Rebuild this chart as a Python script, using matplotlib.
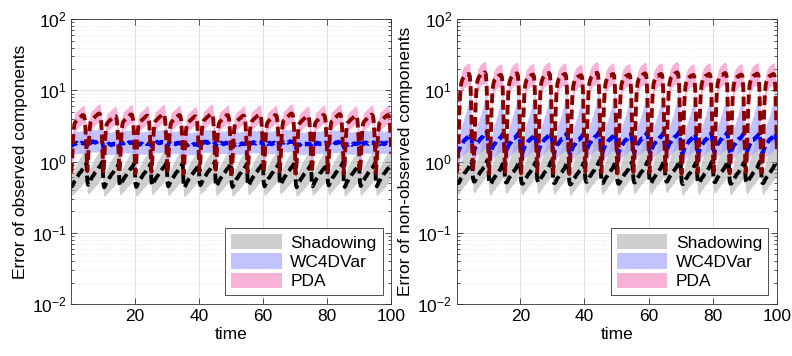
import numpy as np
import matplotlib.pyplot as plt
from matplotlib.patches import Patch

plt.rcParams['font.family'] = ['Liberation Sans', 'DejaVu Sans']
plt.rcParams['mathtext.default'] = 'regular'

n_cycles = 20
dt = 0.25

# observed components
obs_sh_mean = [0.50, 0.45, 0.47, 0.50, 0.53, 0.55, 0.58, 0.60, 0.62, 0.65,
               0.68, 0.70, 0.72, 0.75, 0.78, 0.80, 0.83, 0.86, 0.90, 0.95]
obs_sh_lo = [0.36, 0.33, 0.34, 0.35, 0.36, 0.37, 0.38, 0.39, 0.40, 0.42,
             0.43, 0.44, 0.45, 0.47, 0.48, 0.50, 0.52, 0.54, 0.56, 0.58]
obs_sh_hi = [0.80, 0.65, 0.70, 0.75, 0.80, 0.85, 0.90, 0.95, 1.00, 1.05,
             1.10, 1.15, 1.20, 1.25, 1.30, 1.35, 1.40, 1.45, 1.50, 1.60]
obs_wc_mean = [1.60, 1.70, 1.80, 1.80, 1.80, 1.75, 1.80, 1.85, 1.80, 1.80,
               1.75, 1.80, 1.80, 1.85, 1.80, 1.80, 1.80, 1.85, 1.80, 1.75]
obs_wc_lo = [1.00, 1.20, 1.30, 1.30, 1.30, 1.28, 1.30, 1.32, 1.30, 1.30,
             1.28, 1.30, 1.30, 1.32, 1.30, 1.30, 1.30, 1.32, 1.30, 1.20]
obs_wc_hi = [2.40, 2.60, 2.60, 2.70, 2.65, 2.60, 2.70, 2.75, 2.70, 2.65,
             2.60, 2.70, 2.70, 2.75, 2.70, 2.70, 2.75, 2.85, 3.00, 2.80]
obs_pda_mean = [0.70, 1.00, 1.80, 2.80, 3.40, 3.60, 3.70, 3.80, 3.90, 4.00,
                4.10, 4.20, 4.30, 4.40, 4.50, 4.50, 4.40, 3.80, 2.50, 1.30]
obs_pda_lo = [0.50, 0.75, 1.30, 2.10, 2.60, 2.75, 2.80, 2.90, 3.00, 3.05,
              3.10, 3.20, 3.25, 3.35, 3.40, 3.40, 3.30, 2.80, 1.80, 0.90]
obs_pda_hi = [1.20, 1.60, 2.60, 3.80, 4.60, 4.90, 5.00, 5.10, 5.30, 5.40,
              5.50, 5.70, 5.80, 6.00, 6.10, 6.20, 6.00, 5.20, 3.50, 2.00]

# non-observed components
non_sh_mean = [0.55, 0.50, 0.50, 0.52, 0.55, 0.58, 0.60, 0.62, 0.65, 0.68,
               0.70, 0.72, 0.75, 0.78, 0.80, 0.85, 0.90, 0.95, 1.00, 0.90]
non_sh_lo = [0.38, 0.35, 0.35, 0.36, 0.38, 0.40, 0.41, 0.42, 0.44, 0.46,
             0.47, 0.48, 0.50, 0.52, 0.53, 0.56, 0.58, 0.60, 0.62, 0.55]
non_sh_hi = [0.80, 0.70, 0.75, 0.80, 0.90, 1.00, 1.10, 1.20, 1.30, 1.40,
             1.60, 1.80, 2.00, 2.30, 2.70, 3.20, 4.50, 3.00, 2.00, 1.30]
non_wc_mean = [1.40, 1.30, 1.40, 1.50, 1.60, 1.70, 1.80, 1.80, 1.90, 2.00,
               2.00, 2.10, 2.10, 2.20, 2.20, 2.30, 2.40, 2.50, 2.20, 1.80]
non_wc_lo = [0.95, 0.90, 0.95, 1.00, 1.10, 1.15, 1.20, 1.20, 1.25, 1.30,
             1.30, 1.35, 1.35, 1.40, 1.40, 1.45, 1.50, 1.50, 1.35, 1.10]
non_wc_hi = [2.00, 1.80, 2.00, 2.30, 2.60, 3.00, 3.30, 3.50, 3.80, 4.20,
             4.50, 5.00, 5.50, 6.00, 7.00, 8.00, 9.50, 6.00, 3.50, 2.50]
non_pda_mean = [0.70, 1.00, 2.00, 5.00, 9.00, 12.0, 13.5, 14.5, 15.0, 15.5,
                16.0, 16.0, 16.5, 16.5, 17.0, 17.0, 16.0, 11.0, 4.50, 1.50]
non_pda_lo = [0.50, 0.70, 1.40, 3.50, 6.50, 8.50, 9.50, 10.0, 10.5, 11.0,
              11.0, 11.5, 11.5, 11.5, 12.0, 12.0, 11.0, 7.50, 3.00, 1.00]
non_pda_hi = [1.20, 1.60, 3.00, 7.50, 13.0, 17.0, 19.0, 20.0, 21.0, 22.0,
              22.5, 23.0, 23.5, 24.0, 24.0, 24.5, 23.0, 16.0, 6.50, 2.20]

# small cycle-to-cycle level changes
cycle_level = [1.00, 1.05, 0.97, 1.02, 0.98, 1.03, 1.00, 0.96, 1.04, 1.00,
               0.98, 1.02, 1.00, 1.05, 0.97, 1.00, 1.03, 0.98, 1.01, 1.00]

labels = ['Shadowing', 'WC4DVar', 'PDA']
ylabels = ['Error of observed components', 'Error of non-observed components']

band_colors = ['#a8a8a8', '#9a9aff', '#f27fbd']
band_alpha = [0.55, 0.6, 0.6]
line_colors = ['black', '#0000ff', '#8b0000']

t = np.arange(1, n_cycles * 20 + 1) * dt


def expand(profile):
    return np.tile(profile, n_cycles) * np.repeat(cycle_level, len(profile))


panels = [
    [(obs_sh_mean, obs_sh_lo, obs_sh_hi),
     (obs_wc_mean, obs_wc_lo, obs_wc_hi),
     (obs_pda_mean, obs_pda_lo, obs_pda_hi)],
    [(non_sh_mean, non_sh_lo, non_sh_hi),
     (non_wc_mean, non_wc_lo, non_wc_hi),
     (non_pda_mean, non_pda_lo, non_pda_hi)],
]

fig = plt.figure(figsize=(7.92, 3.56), dpi=100)
positions = [[0.090, 0.146, 0.404, 0.800], [0.577, 0.146, 0.404, 0.800]]

for p, series in enumerate(panels):
    ax = fig.add_axes(positions[p])
    for k, (m, lo, hi) in enumerate(series):
        ax.fill_between(t, expand(lo), expand(hi), color=band_colors[k],
                        alpha=band_alpha[k], linewidth=0)
    for k, (m, lo, hi) in enumerate(series):
        ax.plot(t, expand(m), color=line_colors[k], linewidth=2.8,
                linestyle=(0, (2.5, 1.2)))

    ax.set_yscale('log')
    ax.set_ylim(1e-2, 1e2)
    ax.set_xlim(0.25, 100)
    ax.set_xticks([20, 40, 60, 80, 100])
    ax.tick_params(which='both', direction='in', top=True, right=True,
                   labelsize=12.5, width=0.6, color='#333333')
    ax.tick_params(which='major', length=4)
    ax.tick_params(which='minor', length=2)
    ax.grid(True, which='major', color='#dcdcdc', linewidth=0.6)
    ax.grid(True, which='minor', axis='y', color='#e4e4e4', linewidth=0.6,
            linestyle=':')
    ax.set_axisbelow(True)
    for s in ax.spines.values():
        s.set_linewidth(0.6)
        s.set_color('#333333')
    ax.set_xlabel('time', fontsize=12.5, labelpad=2)
    ax.set_ylabel(ylabels[p], fontsize=12.5, labelpad=3)

    handles = [Patch(facecolor=band_colors[k], alpha=band_alpha[k],
                     edgecolor='none') for k in range(3)]
    leg = ax.legend(handles, labels, loc='lower right', fontsize=12.5,
                    fancybox=False, edgecolor='#333333', framealpha=1,
                    handlelength=2.9, handleheight=1.0, borderaxespad=0.5,
                    labelspacing=0.15, handletextpad=0.5, borderpad=0.35)
    leg.get_frame().set_linewidth(0.6)

plt.savefig('out.png', dpi=100)
